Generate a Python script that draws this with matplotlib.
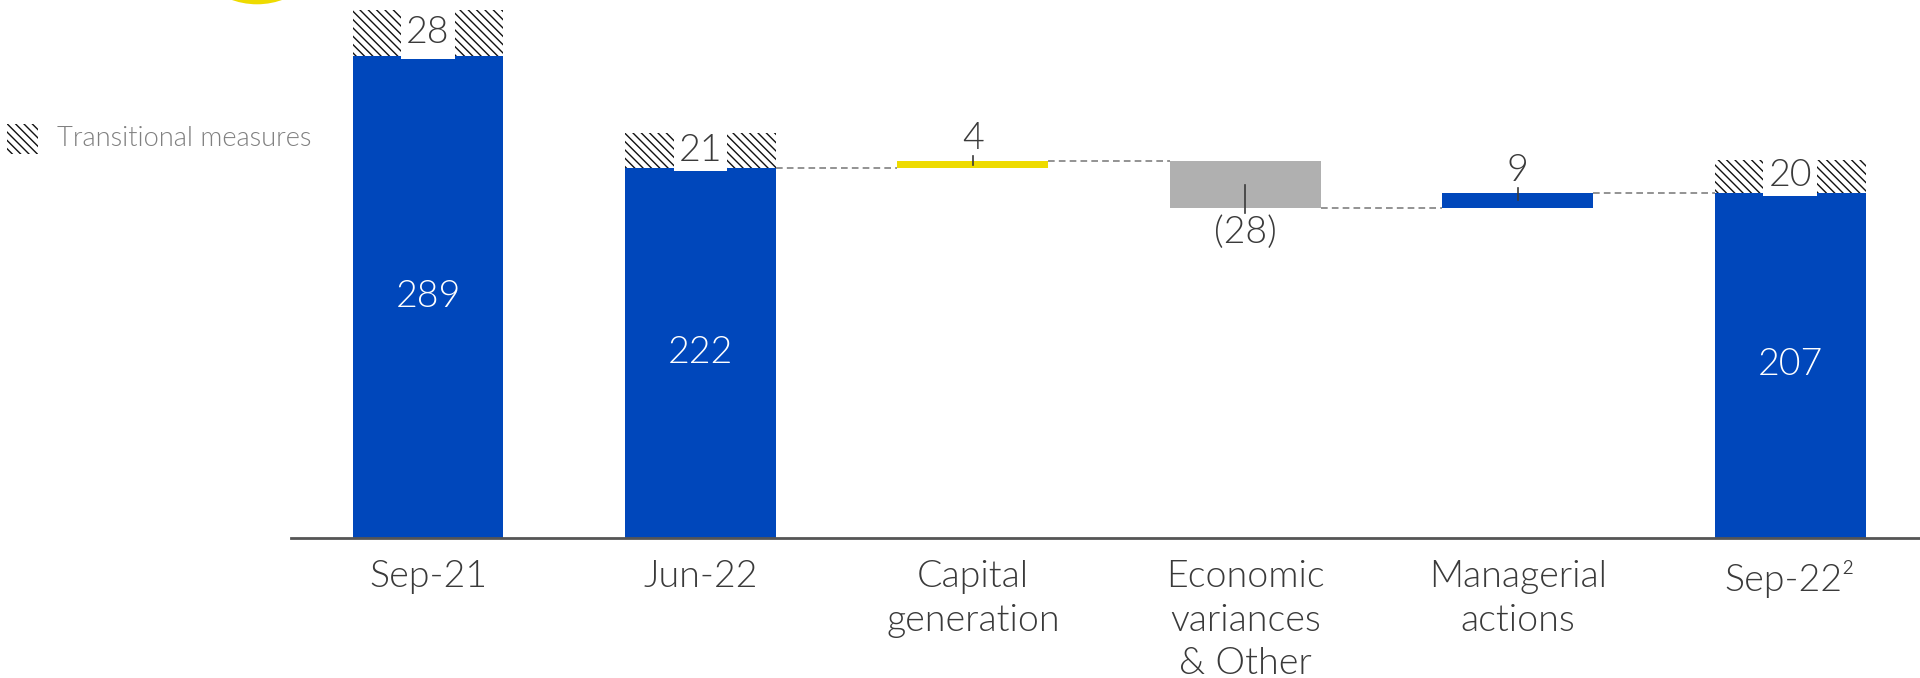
import matplotlib
matplotlib.use("Agg")
import matplotlib.pyplot as plt
from matplotlib.patches import Rectangle, Circle

plt.rcParams['font.family'] = ['Lato', 'DejaVu Sans']
plt.rcParams['hatch.linewidth'] = 1.0

# ---------------- data ----------------
categories = ["Sep-21", "Jun-22", "Capital\ngeneration", "Economic\nvariances\n& Other",
              "Managerial\nactions", "Sep-22²"]
kinds = ["total", "total", "delta", "delta", "delta", "total"]
base_values = [289, 222, 4, -28, 9, 207]          # totals or movements
transitional = [28, 21, 0, 0, 0, 20]               # transitional measures on top of totals
delta_colors = ["#EEDB00", "#B0B0B0", "#0047BB"]
legend_label = "Transitional measures"

BLUE = "#0047BB"
TXT = "#3A3A3A"
HATCH = "\\\\\\\\"
FW = 300
FS = 27

fig = plt.figure(figsize=(19.2, 6.78), dpi=100)
ax = fig.add_axes([291/1920, 140.4/678, 1 - 291/1920, 537.6/678])
ax.set_xlim(-0.503, 5.477)
ax.set_ylim(0, 322.9)
W = 0.554

running = 0
prev_level = None
prev_right = None
dci = 0
tlabels = []
for i, (k, v, t) in enumerate(zip(kinds, base_values, transitional)):
    left = i - W / 2
    if k == "total":
        ax.bar(i, v, width=W, color=BLUE, zorder=2)
        ax.text(i, v / 2, str(v), ha="center", va="center", color="white",
                fontsize=FS, fontweight=FW, zorder=5)
        if t:
            ax.bar(i, t, bottom=v, width=W, color="white", edgecolor="#111111",
                   linewidth=0, hatch=HATCH, zorder=2)
            tt = ax.text(i, v + t / 2, str(t), ha="center", va="center", color=TXT,
                         fontsize=FS, fontweight=FW, zorder=6)
            tlabels.append((tt, v, t))
        running = v
    else:
        start = running
        end = running + v
        col = delta_colors[dci]
        dci += 1
        lo, hi = min(start, end), max(start, end)
        ax.bar(i, hi - lo, bottom=lo, width=W, color=col, zorder=2)
        mid = (start + end) / 2
        if v >= 0:
            ax.plot([i, i], [mid, end + 3.0], color=TXT, lw=1.2, zorder=4)
            ax.text(i, end + 7.2, str(v), ha="center", va="baseline", color=TXT,
                    fontsize=FS, fontweight=FW)
        else:
            ax.plot([i, i], [mid, end - 3.2], color=TXT, lw=1.2, zorder=4)
            ax.text(i, end - 4.9, "(%d)" % abs(v), ha="center", va="top", color=TXT,
                    fontsize=FS, fontweight=FW)
        running = end
    if prev_level is not None and i >= 2:
        ax.plot([prev_right, left], [prev_level, prev_level], color="#808080",
                lw=1.2, ls=(0, (4, 2.5)), zorder=1)
    prev_level = running
    prev_right = i + W / 2

# white boxes behind transitional labels
fig.canvas.draw()
r = fig.canvas.get_renderer()
inv = ax.transData.inverted()
for tt, v, t in tlabels:
    bb = tt.get_window_extent(renderer=r)
    (x0, _), (x1, _) = inv.transform([(bb.x0 - 5, 0), (bb.x1 + 5, 0)])
    ax.add_patch(Rectangle((x0, v - 1.6), x1 - x0, t + 1.6, facecolor="white",
                           edgecolor="none", zorder=3))

ax.set_xticks(range(len(categories)))
ax.set_xticklabels(categories, fontsize=FS, color=TXT, fontweight=FW,
                   linespacing=1.36)
ax.tick_params(axis="x", length=0, pad=16)
ax.set_yticks([])
for s in ["top", "left", "right"]:
    ax.spines[s].set_visible(False)
ax.spines["bottom"].set_color("#555555")
ax.spines["bottom"].set_linewidth(2)

# legend
fig.patches.append(Rectangle((7/1920, 1 - 154/678), 31/1920, 30/678, transform=fig.transFigure,
                             facecolor="white", edgecolor="#111111", linewidth=0,
                             hatch=HATCH, figure=fig))
fig.text(57/1920, 1 - 139/678, legend_label, ha="left", va="center", color="#808080",
         fontsize=19.6, fontweight=FW)

# decorative yellow circle (cut at top)
fig.patches.append(Circle((2.57, (678 + 70.5) / 100), 0.748, transform=fig.dpi_scale_trans,
                          facecolor="#EEDB00", edgecolor="none", figure=fig))

fig.savefig("out.png", dpi=100)
